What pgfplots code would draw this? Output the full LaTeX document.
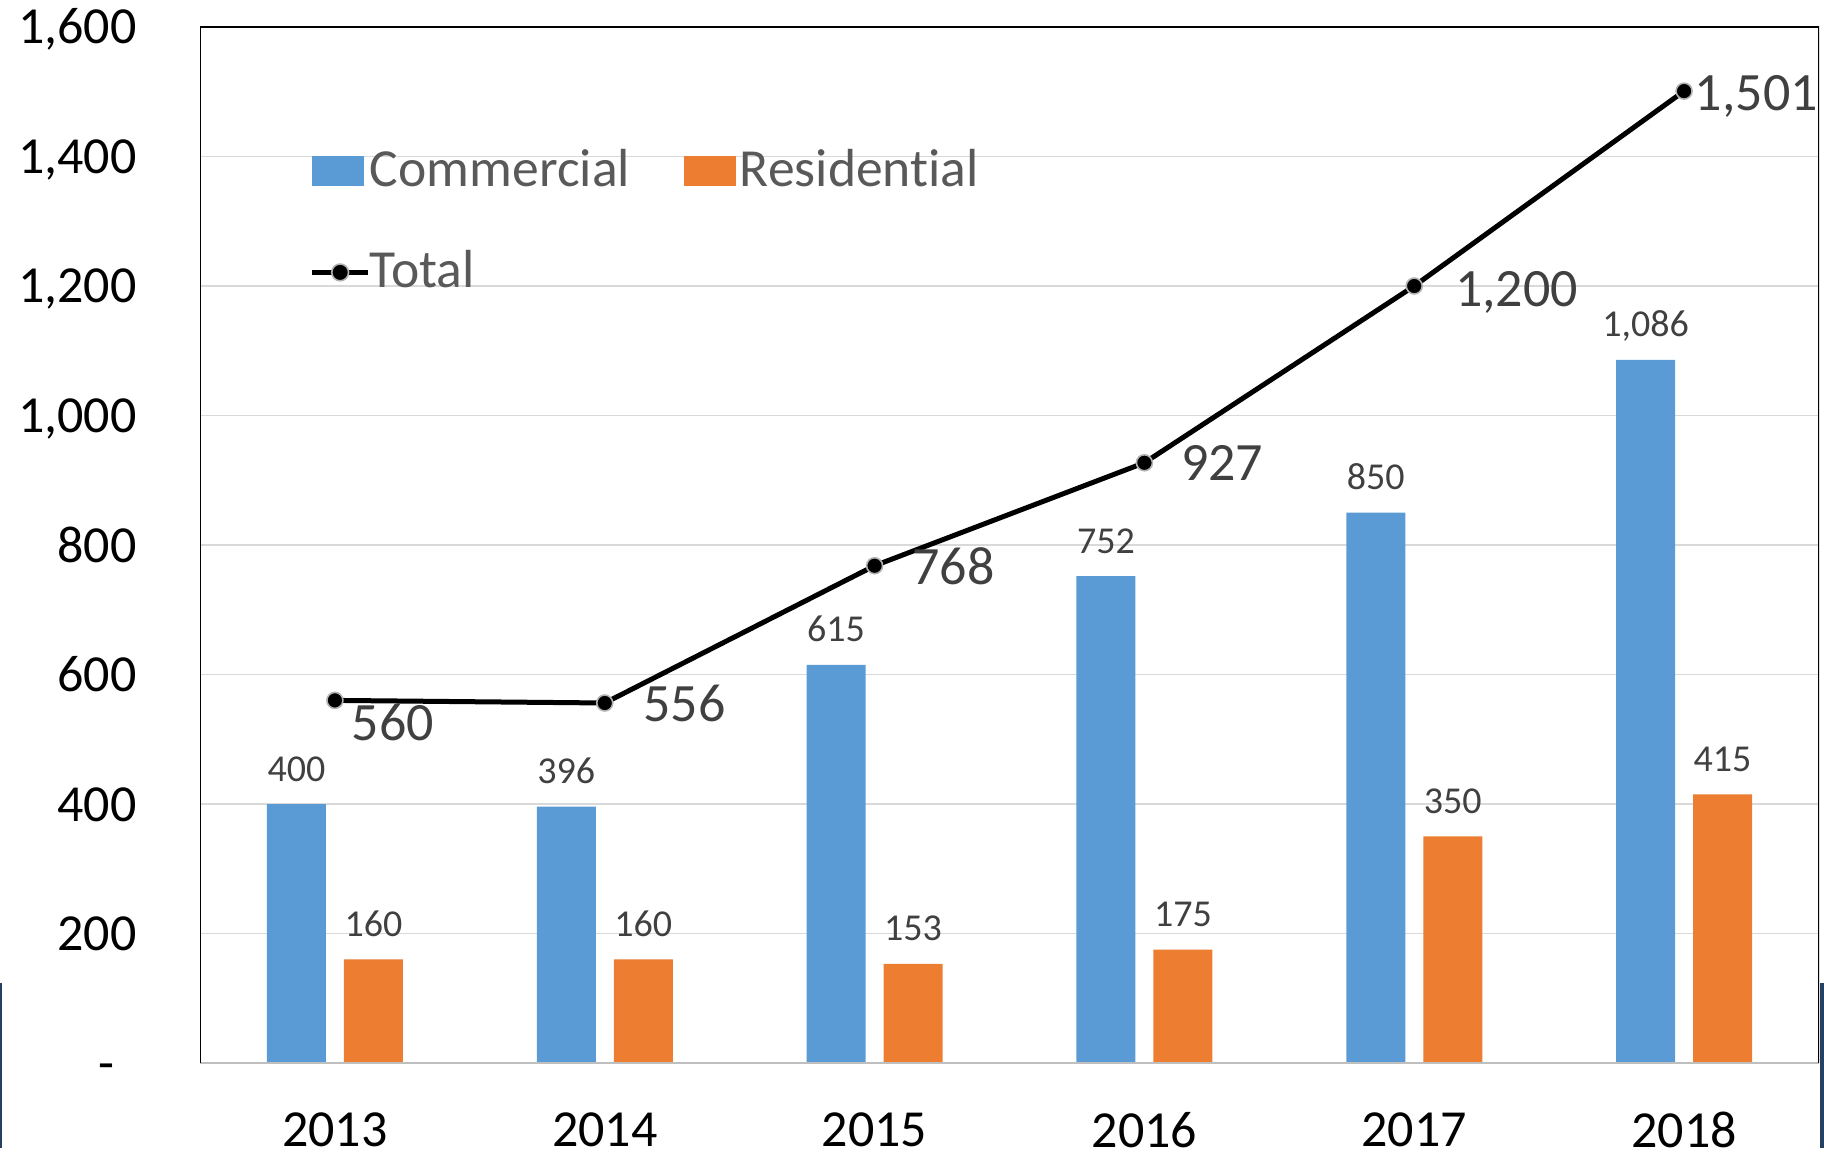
\documentclass[border=0pt]{standalone}
\usepackage{pgfplots}
\pgfplotsset{compat=1.18}
\usepackage{pgfplotstable}
\usepackage{fontspec}
\setmainfont{Carlito}[Ligatures=NoCommon]
\definecolor{cblue}{HTML}{5B9BD5}
\definecolor{corange}{HTML}{ED7D31}
\definecolor{lbl}{HTML}{404040}
\definecolor{leg}{HTML}{595959}
\definecolor{gridc}{HTML}{D9D9D9}
\definecolor{botc}{HTML}{BFBFBF}
\definecolor{edgeblue}{HTML}{254061}

\pgfplotstableread{
x c cl r rl t tl dx dy
0 400 400 160 160 560 560 8 -20
1 396 396 160 160 556 556 19 -9.5
2 615 615 153 153 768 768 18.5 -9.5
3 752 752 175 175 927 927 18 -9
4 850 850 350 350 1200 1,200 20 -10
5 1086 1,086 415 415 1501 1,501 5 -9.5
}\data

\begin{document}
\begin{tikzpicture}
\begin{axis}[
  at={(100pt,47.5pt)}, anchor=south west,
  scale only axis, width=809.5pt, height=518pt,
  xmin=-0.5, xmax=5.5, ymin=0, ymax=1600,
  xtick={0,1,2,3,4,5},
  xticklabels={2013,2014,2015,2016,2017,2018},
  ytick={0,200,...,1600},
  yticklabels={{-\hspace*{11pt}},200,400,600,800,{1,000},{1,200},{1,400},{1,600}},
  ymajorgrids, grid style={color=gridc, line width=0.8pt},
  major tick length=0pt,
  axis line style={draw=none},
  xticklabel style={anchor=north, inner sep=0pt, yshift=-24.5pt, font=\fontsize{26}{31}\selectfont, text=black},
  yticklabel style={anchor=east, inner sep=0pt, xshift=-31.5pt, font=\fontsize{26}{31}\selectfont, text=black, text height=17pt, text depth=0pt},
  legend columns=2,
  legend cell align=left,
  legend style={draw=none, fill=none, at={(rel axis cs:0.0636,0.8865)}, anchor=north west,
    font=\fontsize{26.8}{31}\selectfont, text=leg,
    nodes={inner sep=0pt}, row sep=30.75pt,
    /tikz/every odd column/.append style={column sep=-0.5pt},
    /tikz/every even column/.append style={column sep=27pt}},
]
\addplot[fill=cblue, draw=none, ybar, bar width=29.5pt, bar shift=-19.25pt,
  nodes near coords, point meta=explicit symbolic,
  nodes near coords style={font=\fontsize{19}{22}\selectfont, text=lbl, anchor=base, inner sep=0pt, yshift=11.5pt, xshift=-19.25pt},
  legend image code/.code={\fill[cblue] (0pt,-8.3pt) rectangle (26pt,6.7pt);}]
  table[x=x, y=c, meta=cl] {\data};
\addlegendentry{Commercial}
\addplot[fill=corange, draw=none, ybar, bar width=29.5pt, bar shift=19.25pt,
  nodes near coords, point meta=explicit symbolic,
  nodes near coords style={font=\fontsize{19}{22}\selectfont, text=lbl, anchor=base, inner sep=0pt, yshift=11.5pt, xshift=19.25pt},
  legend image code/.code={\fill[corange] (0pt,-8.3pt) rectangle (26pt,6.7pt);}]
  table[x=x, y=r, meta=rl] {\data};
\addlegendentry{\hspace*{2.5pt}Residential}
\addplot[black, line width=2.5pt, mark=*, mark size=4pt,
  mark options={solid, fill=black, draw=gray!60, line width=0.8pt},
  nodes near coords, point meta=explicit symbolic,
  visualization depends on={\thisrow{dx} \as \dx},
  visualization depends on={\thisrow{dy} \as \dy},
  nodes near coords style={font=\fontsize{27}{31}\selectfont, text=lbl, anchor=base west, inner sep=0pt, xshift=\dx pt, yshift=\dy pt},
  legend image code/.code={\draw[black, line width=2.8pt] (0pt,-0.8pt) -- (28pt,-0.8pt);
     \filldraw[fill=black, draw=gray!60, line width=0.8pt] (14pt,-0.8pt) circle (4.2pt);}]
  table[x=x, y=t, meta=tl] {\data};
\addlegendentry{Total}
\draw[botc, line width=1.2pt] (rel axis cs:0,0) -- (rel axis cs:1,0);
\draw[black, line width=1pt] (rel axis cs:0,0) -- (rel axis cs:0,1) -- (rel axis cs:1,1) -- (rel axis cs:1,0);
\end{axis}
\fill[edgeblue] (0pt,5pt) rectangle (0.8pt,87.5pt);
\fill[edgeblue] (910pt,5pt) rectangle (912pt,87.5pt);
\pgfresetboundingbox
\path[use as bounding box] (0pt,0pt) rectangle (912pt,579pt);
\end{tikzpicture}
\end{document}
